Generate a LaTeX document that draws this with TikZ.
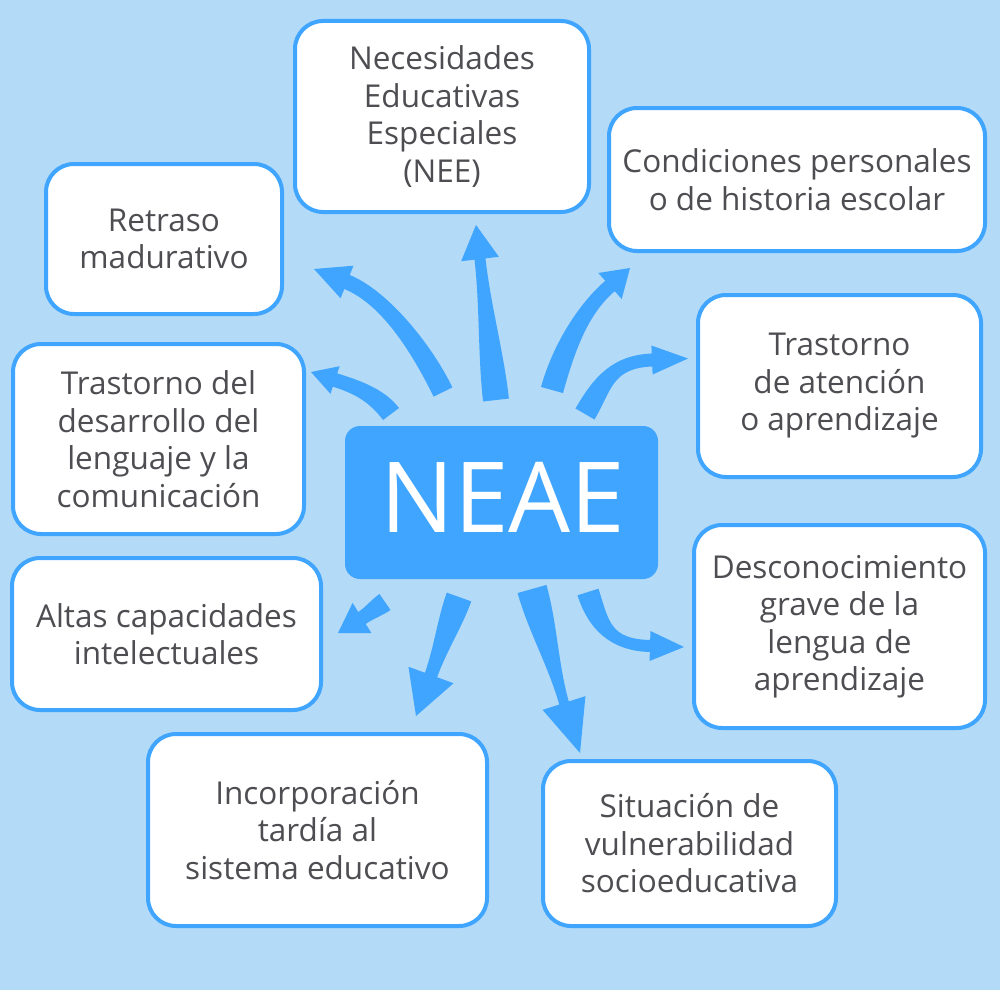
\documentclass[tikz,border=0pt]{standalone}
\usepackage{fontspec}
\setmainfont{Open Sans}
\usetikzlibrary{calc}
\definecolor{bgc}{RGB}{179,218,247}
\definecolor{blu}{RGB}{64,165,255}
\definecolor{txt}{RGB}{77,77,82}
% #1 start, #2 ctrl1, #3 ctrl2, #4 head base, #5 tip, #6 half width at start, #7 half width at head, #8 half head width
\newcommand{\fatarrow}[8]{%
 \fill[blu] ($(#1)!#6!90:(#2)$) .. controls ($(#2)!#6!-90:(#1)$) and ($(#3)!#7!90:(#4)$) .. ($(#4)!#7!90:(#5)$)
   -- ($(#4)!#8!90:(#5)$) -- (#5) -- ($(#4)!#8!-90:(#5)$) -- ($(#4)!#7!-90:(#5)$)
   .. controls ($(#3)!#7!-90:(#4)$) and ($(#2)!#6!90:(#1)$) .. ($(#1)!#6!-90:(#2)$) -- cycle;}
\tikzset{
  box/.style={draw=blu, line width=4pt, fill=white, rounded corners=28pt, align=center,
    text=txt, font=\fontsize{31.5}{37.5}\selectfont, inner sep=0pt},
  hub/.style={fill=blu, rounded corners=15pt, inner sep=0pt},
  hubtext/.style={text=white, font=\fontsize{98}{100}\selectfont, inner sep=0pt}
}
\begin{document}
\begin{tikzpicture}[x=1pt,y=-1pt]
\fill[bgc] (0,0) rectangle (1000,990);
\useasboundingbox (0,0) rectangle (1000,990);

% boxes
\node[box, minimum width=294pt, minimum height=191pt] (nee) at (442,116.5) {Necesidades\\Educativas\\Especiales\\(NEE)};
\node[box, minimum width=376pt, minimum height=143pt] (cond) at (797,179.5) {Condiciones personales\\o de historia escolar};
\node[box, minimum width=236pt, minimum height=150pt] (retr) at (164,239) {Retraso\\madurativo};
\node[box, minimum width=283pt, minimum height=182pt] (aten) at (839.5,386) {Trastorno\\de atención\\o aprendizaje};
\node[box, minimum width=291pt, minimum height=190pt] (leng) at (158.5,439) {Trastorno del\\desarrollo del\\lenguaje y la\\comunicación};
\node[box, minimum width=291pt, minimum height=203pt] (desc) at (839.5,626.5) {Desconocimiento\\grave de la\\lengua de\\aprendizaje};
\node[box, minimum width=309pt, minimum height=152pt] (alta) at (166.5,634) {Altas capacidades\\intelectuales};
\node[box, minimum width=339pt, minimum height=192pt] (inco) at (317.5,830) {Incorporación\\tardía al\\sistema educativo};
\node[box, minimum width=293pt, minimum height=165pt] (situ) at (689.5,843.5) {Situación de\\vulnerabilidad\\socioeducativa};

% hub
\node[hub, minimum width=313pt, minimum height=153pt] (neae) at (501.5,502.5) {};
\node[hubtext] (neaet) at (503,497) {NEAE};

% arrow coordinates
% A -> retraso
\coordinate (aS) at (443,392); \coordinate (aC1) at (421,347); \coordinate (aC2) at (384,297);
\coordinate (aH) at (347,282); \coordinate (aT) at (314,269);
% B -> lenguaje
\coordinate (bS) at (391,414); \coordinate (bC1) at (376,394); \coordinate (bC2) at (354,386);
\coordinate (bH) at (335,380); \coordinate (bT) at (311,372);
% C -> NEE
\coordinate (cS) at (496,400); \coordinate (cC1) at (490.7,353); \coordinate (cC2) at (485.3,306);
\coordinate (cH) at (480,259); \coordinate (cT) at (476,225);
% D -> condiciones
\coordinate (dS) at (552,390); \coordinate (dC1) at (564,347); \coordinate (dC2) at (583.4,308.8);
\coordinate (dH) at (610,286); \coordinate (dT) at (630,268);
% E -> atencion
\coordinate (eS) at (585,414); \coordinate (eC1) at (602.5,383.7); \coordinate (eC2) at (612,361.6);
\coordinate (eH) at (652,360); \coordinate (eT) at (688,358.5);
% F -> altas
\coordinate (fS) at (385,602); \coordinate (fC1) at (377.3,607.3); \coordinate (fC2) at (369.7,612.7);
\coordinate (fH) at (362,618); \coordinate (fT) at (338,633);
% G -> incorporacion
\coordinate (gS) at (459,597); \coordinate (gC1) at (449.7,623); \coordinate (gC2) at (440.3,649);
\coordinate (gH) at (431,675); \coordinate (gT) at (416,716);
% H -> situacion
\coordinate (hS) at (532,589); \coordinate (hC1) at (542.7,627); \coordinate (hC2) at (553.3,665);
\coordinate (hH) at (564,703); \coordinate (hT) at (580,753);
% I -> desconocimiento
\coordinate (iS) at (588,592); \coordinate (iC1) at (598.5,625); \coordinate (iC2) at (610,645);
\coordinate (iH) at (650,646); \coordinate (iT) at (684,647);

\fatarrow{aS}{aC1}{aC2}{aH}{aT}{10.5pt}{7.5pt}{17.5pt}
\fatarrow{bS}{bC1}{bC2}{bH}{bT}{10pt}{7pt}{14.5pt}
\fatarrow{cS}{cC1}{cC2}{cH}{cT}{13pt}{5.5pt}{19pt}
\fatarrow{dS}{dC1}{dC2}{dH}{dT}{11.4pt}{7pt}{17.5pt}
\fatarrow{eS}{eC1}{eC2}{eH}{eT}{11pt}{6.5pt}{14.5pt}
\fatarrow{fS}{fC1}{fC2}{fH}{fT}{9.7pt}{7pt}{17.75pt}
\fatarrow{gS}{gC1}{gC2}{gH}{gT}{13pt}{6.5pt}{24pt}
\fatarrow{hS}{hC1}{hC2}{hH}{hT}{15pt}{5pt}{22.5pt}
\fatarrow{iS}{iC1}{iC2}{iH}{iT}{11pt}{6pt}{15pt}
\end{tikzpicture}
\end{document}
